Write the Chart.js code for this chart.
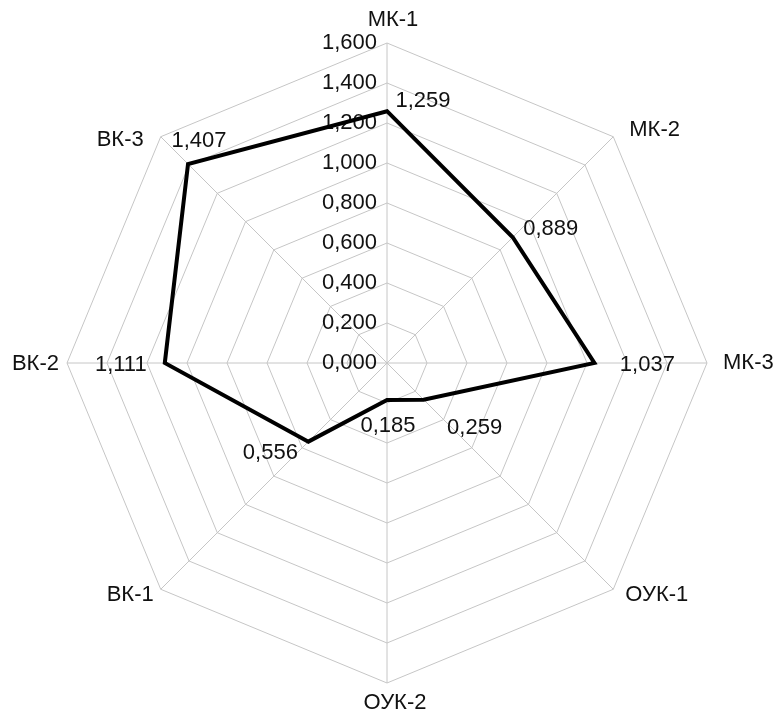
<!DOCTYPE html>
<html>
<head>
<meta charset="utf-8">
<script src="https://cdn.jsdelivr.net/npm/chart.js@4.4.0/dist/chart.umd.min.js"></script>
<style>
  html, body { margin: 0; padding: 0; background: #fff; }
  #wrap { width: 780px; height: 716px; }
</style>
</head>
<body>
<div id="wrap"><canvas id="radar"></canvas></div>
<script>
// Chart data
const categories = ['МК-1', 'МК-2', 'МК-3', 'ОУК-1', 'ОУК-2', 'ВК-1', 'ВК-2', 'ВК-3'];
const values = [1.259, 0.889, 1.037, 0.259, 0.185, 0.556, 1.111, 1.407];
const scaleMin = 0;
const scaleMax = 1.6;
const scaleStep = 0.2;

const fmt = v => v.toFixed(3).replace('.', ',');
const FONT = "22px 'Liberation Sans', Arial, sans-serif";
const GRID = '#c6c6c6';
const INK = '#111111';

// text placement relative to each point / outer vertex
const valueLabelOffsets = [[36, -10], [38, -8], [53, 2], [51, 28], [1, 26], [-38, 11], [-44, 2], [11, -23]];
const catLabelPlace = [
  [6, -23, 'center'], [16, -7, 'left'], [16, 0, 'left'], [12, 6, 'left'],
  [8, 20, 'center'], [-7, 6, 'right'], [-8, 1, 'right'], [-17, 3, 'right']
];

const radarText = {
  id: 'radarText',
  beforeDatasetsDraw(chart) {
    const ctx = chart.ctx;
    const r = chart.scales.r;
    ctx.save();
    ctx.font = FONT;
    ctx.fillStyle = INK;
    ctx.textBaseline = 'middle';
    ctx.textAlign = 'right';
    // tick labels sit left of the first axis
    r.ticks.forEach(t => {
      ctx.fillText(fmt(t.value), r.xCenter - 10, r.yCenter - r.getDistanceFromCenterForValue(t.value));
    });
    ctx.restore();
  },
  afterDraw(chart) {
    const ctx = chart.ctx;
    const r = chart.scales.r;
    ctx.save();
    ctx.font = FONT;
    ctx.fillStyle = INK;
    ctx.textBaseline = 'middle';
    categories.forEach((name, i) => {
      const p = r.getPointPosition(i, r.drawingArea);
      const [dx, dy, align] = catLabelPlace[i];
      ctx.textAlign = align;
      ctx.fillText(name, p.x + dx, p.y + dy);
    });
    ctx.textAlign = 'center';
    chart.getDatasetMeta(0).data.forEach((pt, i) => {
      const [dx, dy] = valueLabelOffsets[i];
      ctx.fillText(fmt(values[i]), pt.x + dx, pt.y + dy);
    });
    ctx.restore();
  }
};

new Chart(document.getElementById('radar'), {
  type: 'radar',
  data: {
    labels: categories,
    datasets: [{
      data: values,
      borderColor: '#000000',
      borderWidth: 4,
      backgroundColor: 'transparent',
      fill: false,
      pointRadius: 0,
      pointHoverRadius: 0,
      borderJoinStyle: 'miter',
      tension: 0
    }]
  },
  options: {
    responsive: true,
    maintainAspectRatio: false,
    animation: false,
    layout: { padding: { left: 67, right: 72, top: 43, bottom: 33 } },
    plugins: {
      legend: { display: false },
      tooltip: { enabled: false }
    },
    scales: {
      r: {
        min: scaleMin,
        max: scaleMax,
        ticks: { stepSize: scaleStep, display: false },
        grid: { color: GRID, lineWidth: 1 },
        angleLines: { color: GRID, lineWidth: 1 },
        pointLabels: { display: false }
      }
    }
  },
  plugins: [radarText]
});
</script>
</body>
</html>
